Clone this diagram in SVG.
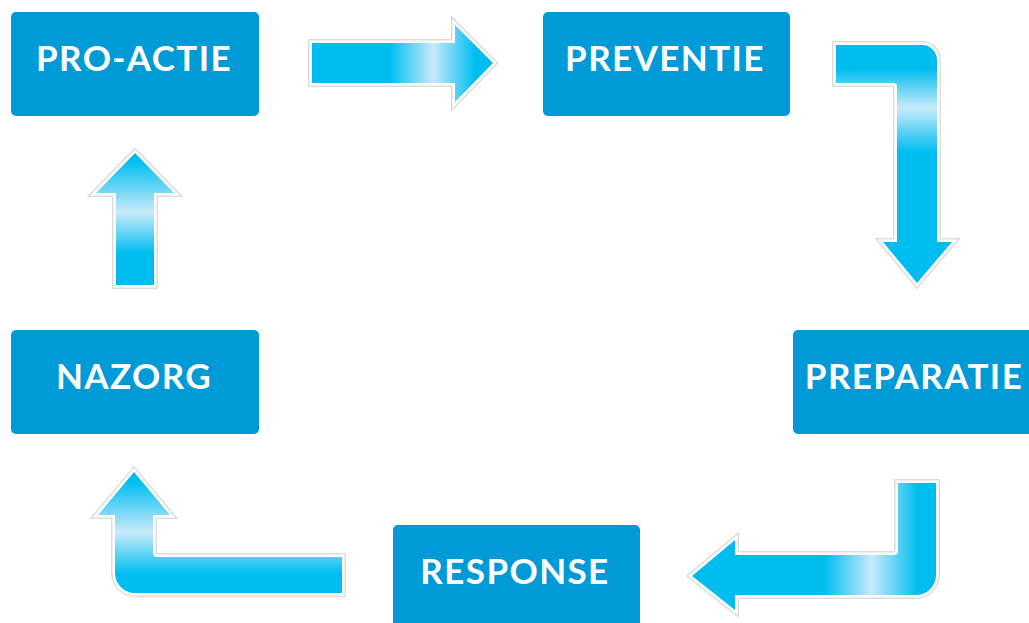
<svg xmlns="http://www.w3.org/2000/svg" width="1029" height="623" viewBox="0 0 1029 623">
<style>
.box{fill:#009ad7}
.lbl{font-family:Lato,"Open Sans",sans-serif;font-weight:bold;font-size:35px;fill:#fff;text-anchor:middle;letter-spacing:1.4px}
.o1{fill:none;stroke:#dcdcdc;stroke-width:8;stroke-linejoin:miter}
.o2{fill:none;stroke:#fff;stroke-width:5;stroke-linejoin:miter}
</style>
<defs>
<linearGradient id="g1" gradientUnits="userSpaceOnUse" x1="312" y1="0" x2="493" y2="0">
<stop offset="0" stop-color="#00bdf0"/><stop offset="0.43" stop-color="#00bdf0"/><stop offset="0.67" stop-color="#c8eafa"/><stop offset="0.9" stop-color="#00bdf0"/><stop offset="1" stop-color="#00bdf0"/>
</linearGradient>
<linearGradient id="g2" gradientUnits="userSpaceOnUse" x1="0" y1="45" x2="0" y2="283">
<stop offset="0" stop-color="#00bdf0"/><stop offset="0.1" stop-color="#00bdf0"/><stop offset="0.265" stop-color="#c8eafa"/><stop offset="0.45" stop-color="#00bdf0"/><stop offset="1" stop-color="#00bdf0"/>
</linearGradient>
<linearGradient id="g3" gradientUnits="userSpaceOnUse" x1="692" y1="0" x2="937" y2="0">
<stop offset="0" stop-color="#00bdf0"/><stop offset="0.54" stop-color="#00bdf0"/><stop offset="0.735" stop-color="#c8eafa"/><stop offset="0.92" stop-color="#00bdf0"/><stop offset="1" stop-color="#00bdf0"/>
</linearGradient>
<linearGradient id="g4" gradientUnits="userSpaceOnUse" x1="0" y1="472" x2="0" y2="595">
<stop offset="0" stop-color="#00bdf0"/><stop offset="0.08" stop-color="#00bdf0"/><stop offset="0.49" stop-color="#c8eafa"/><stop offset="0.83" stop-color="#00bdf0"/><stop offset="1" stop-color="#00bdf0"/>
</linearGradient>
<linearGradient id="g5" gradientUnits="userSpaceOnUse" x1="0" y1="153" x2="0" y2="285">
<stop offset="0" stop-color="#00bdf0"/><stop offset="0.06" stop-color="#00bdf0"/><stop offset="0.45" stop-color="#c8eafa"/><stop offset="0.76" stop-color="#00bdf0"/><stop offset="1" stop-color="#00bdf0"/>
</linearGradient>
</defs>
<g id="connectors">
<g id="arrow-proactie-preventie">
<path class="o1" d="M312,43 H455 V25 L493,63 L455,102 V83 H312 Z"/>
<path class="o2" d="M312,43 H455 V25 L493,63 L455,102 V83 H312 Z"/>
<path fill="url(#g1)" d="M312,43 H455 V25 L493,63 L455,102 V83 H312 Z"/>
</g>
<g id="arrow-preventie-preparatie">
<path class="o1" d="M836,45 H922 A15,15 0 0 1 937,60 V242 H952 L917,283 L883,242 H897 V87 A4,4 0 0 0 893,83 H836 Z"/>
<path class="o2" d="M836,45 H922 A15,15 0 0 1 937,60 V242 H952 L917,283 L883,242 H897 V87 A4,4 0 0 0 893,83 H836 Z"/>
<path fill="url(#g2)" d="M836,45 H922 A15,15 0 0 1 937,60 V242 H952 L917,283 L883,242 H897 V87 A4,4 0 0 0 893,83 H836 Z"/>
</g>
<g id="arrow-preparatie-response">
<path class="o1" d="M936,483 V575 A20,20 0 0 1 916,595 H735 V610 L692,576 L735,540 V555 H894 A4,4 0 0 0 898,551 V483 Z"/>
<path class="o2" d="M936,483 V575 A20,20 0 0 1 916,595 H735 V610 L692,576 L735,540 V555 H894 A4,4 0 0 0 898,551 V483 Z"/>
<path fill="url(#g3)" d="M936,483 V575 A20,20 0 0 1 916,595 H735 V610 L692,576 L735,540 V555 H894 A4,4 0 0 0 898,551 V483 Z"/>
</g>
<g id="arrow-response-nazorg">
<path class="o1" d="M342,557 V593 H135 A20,20 0 0 1 115,573 V515 H98 L134,472 L170,515 H153 V553 A4,4 0 0 0 157,557 Z"/>
<path class="o2" d="M342,557 V593 H135 A20,20 0 0 1 115,573 V515 H98 L134,472 L170,515 H153 V553 A4,4 0 0 0 157,557 Z"/>
<path fill="url(#g4)" d="M342,557 V593 H135 A20,20 0 0 1 115,573 V515 H98 L134,472 L170,515 H153 V553 A4,4 0 0 0 157,557 Z"/>
</g>
<g id="arrow-nazorg-proactie">
<path class="o1" d="M116,285 V193 H96 L135,153 L174,193 H154 V285 Z"/>
<path class="o2" d="M116,285 V193 H96 L135,153 L174,193 H154 V285 Z"/>
<path fill="url(#g5)" d="M116,285 V193 H96 L135,153 L174,193 H154 V285 Z"/>
</g>
</g>
<g id="pro-actie"><rect class="box" x="11" y="12" width="248" height="104" rx="5"/><text class="lbl" x="134" y="71">PRO-ACTIE</text></g>
<g id="preventie"><rect class="box" x="543" y="12" width="247" height="104" rx="5"/><text class="lbl" x="665" y="71">PREVENTIE</text></g>
<g id="preparatie"><rect class="box" x="793" y="330" width="245" height="104" rx="5"/><text class="lbl" x="914" y="389">PREPARATIE</text></g>
<g id="nazorg"><rect class="box" x="11" y="330" width="248" height="104" rx="5"/><text class="lbl" x="134" y="389">NAZORG</text></g>
<g id="response"><rect class="box" x="393" y="525" width="247" height="110" rx="5"/><text class="lbl" x="515" y="584">RESPONSE</text></g>
</svg>
